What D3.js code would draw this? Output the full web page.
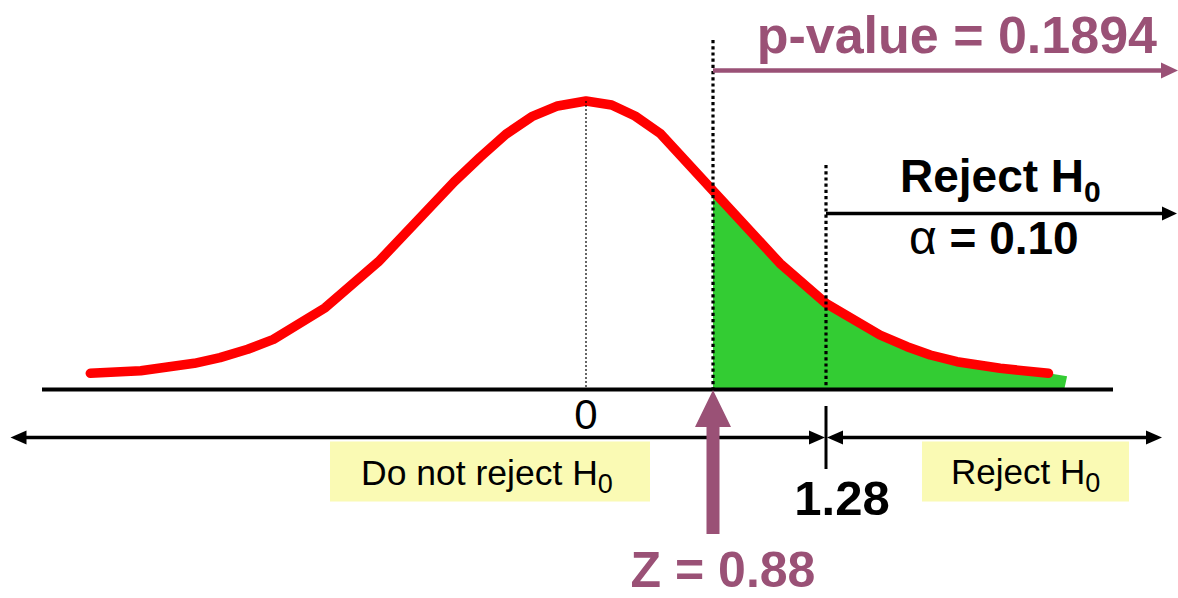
<!DOCTYPE html>
<html>
<head>
<meta charset="utf-8">
<script src="https://cdn.jsdelivr.net/npm/d3@7/dist/d3.min.js"></script>
<style>
  html, body { margin: 0; padding: 0; background: #ffffff; }
  svg { display: block; }
  text { font-family: "Liberation Sans", Arial, Helvetica, sans-serif; }
</style>
</head>
<body>
<script>
// ---- data ----
// schematic standard-normal curve: z positions and density heights
const curveZ = [-3.435, -3.085, -2.714, -2.536, -2.344, -2.166, -1.807, -1.438, -1.164, -0.913,
                -0.734, -0.555, -0.376, -0.197, 0, 0.178, 0.340, 0.513, 0.88, 1.117,
                1.28, 1.654, 1.842, 2.003, 2.188, 2.487, 2.822];
const curveDensity = [0.0217, 0.0253, 0.0356, 0.0434, 0.0550, 0.0688, 0.1126, 0.1763, 0.2341, 0.2871,
                      0.3209, 0.3528, 0.3771, 0.3920, 0.3989, 0.3934, 0.3781, 0.3541, 0.2747, 0.1741,
                      0.1187, 0.0748, 0.0586, 0.0471, 0.0378, 0.0287, 0.0217];
// shaded p-value area runs a little beyond the end of the drawn curve
const shadeTailZ = [2.951, 2.932];
const shadeTailDensity = [0.0175, 0];

const zCenter = 0;
const zStat = 0.88;          // test statistic
const zCritical = 1.28;      // critical value
const pValue = 0.1894;
const alpha = 0.10;

const labelZero = "0";
const labelCritical = "1.28";
const labelStat = "Z = 0.88";
const labelPValue = "p-value = 0.1894";
const labelAlphaSym = "α";
const labelAlphaVal = " = 0.10";
const labelReject = "Reject H";
const labelDoNot = "Do not reject H";
const labelSub = "0";

// ---- layout ----
const W = 1178, H = 598;
const mauve = "#9a5176";
const svg = d3.select("body").append("svg").attr("width", W).attr("height", H);

// schematic (not to scale) horizontal z scale
const x = d3.scaleLinear()
  .domain([-3.5, zCenter, zStat, zCritical, 3.5])
  .range([80.9, 586, 713, 826, 1146.3]);
const y = d3.scaleLinear().domain([0, 0.3989]).range([389, 101]);

const curve = curveZ.map((z, i) => [z, curveDensity[i]]);

// green shaded area (z >= zStat)
const shade = [[zStat, 0]]
  .concat(curve.filter(d => d[0] >= zStat))
  .concat(shadeTailZ.map((z, i) => [z, shadeTailDensity[i]]));
svg.append("path")
  .attr("d", d3.line().x(d => x(d[0])).y(d => y(d[1]))(shade) + "Z")
  .attr("fill", "#33cc33");

// red curve
svg.append("path")
  .datum(curve)
  .attr("d", d3.line().x(d => x(d[0])).y(d => y(d[1])))
  .attr("fill", "none")
  .attr("stroke", "#ff0000")
  .attr("stroke-width", 9.5)
  .attr("stroke-linejoin", "round")
  .attr("stroke-linecap", "round");

// thin dotted line at the mean
svg.append("line")
  .attr("x1", x(zCenter)).attr("x2", x(zCenter))
  .attr("y1", y(0.3989)).attr("y2", y(0))
  .attr("stroke", "#000").attr("stroke-width", 1.2).attr("stroke-dasharray", "2,2");

// thick dotted lines at Z stat and critical value
svg.append("line")
  .attr("x1", x(zStat)).attr("x2", x(zStat))
  .attr("y1", 40).attr("y2", y(0))
  .attr("stroke", "#000").attr("stroke-width", 3.2).attr("stroke-dasharray", "3.2,3");
svg.append("line")
  .attr("x1", x(zCritical)).attr("x2", x(zCritical))
  .attr("y1", 165).attr("y2", y(0))
  .attr("stroke", "#000").attr("stroke-width", 3.2).attr("stroke-dasharray", "3.2,3");

// baseline
svg.append("line")
  .attr("x1", 42).attr("x2", 1113)
  .attr("y1", 389.5).attr("y2", 389.5)
  .attr("stroke", "#000").attr("stroke-width", 4);

function arrowHead(tipX, tipY, dir, len, half, color) {
  // dir: 1 = pointing right, -1 = pointing left
  const bx = tipX - dir * len;
  svg.append("path")
    .attr("d", `M${tipX},${tipY} L${bx},${tipY - half} L${bx},${tipY + half} Z`)
    .attr("fill", color);
}
function hLine(x1, x2, yy, w, color) {
  svg.append("line").attr("x1", x1).attr("x2", x2).attr("y1", yy).attr("y2", yy)
    .attr("stroke", color).attr("stroke-width", w);
}

// p-value arrow
hLine(x(zStat), 1163, 70.5, 4.5, mauve);
arrowHead(1178, 70.5, 1, 17, 8, mauve);

// reject region arrow (alpha)
hLine(x(zCritical), 1164, 213.5, 3.5, "#000");
arrowHead(1177, 213.5, 1, 15, 7, "#000");

// bottom double arrows
const yArr = 437.5;
hLine(22, x(zCritical) - 12, yArr, 3.5, "#000");
arrowHead(10.5, yArr, -1, 16, 7, "#000");
arrowHead(x(zCritical) - 1, yArr, 1, 16, 7, "#000");
hLine(x(zCritical) + 12, 1150, yArr, 3.5, "#000");
arrowHead(x(zCritical) + 1, yArr, -1, 16, 7, "#000");
arrowHead(1162, yArr, 1, 16, 7, "#000");
// tick at critical value
svg.append("line")
  .attr("x1", x(zCritical)).attr("x2", x(zCritical))
  .attr("y1", 406).attr("y2", 469)
  .attr("stroke", "#000").attr("stroke-width", 3);

// mauve up arrow at Z stat
const ax = x(zStat);
svg.append("path")
  .attr("d", `M${ax},390 L${ax + 18},427 L${ax + 6.5},427 L${ax + 6.5},534 L${ax - 6.5},534 L${ax - 6.5},427 L${ax - 18},427 Z`)
  .attr("fill", mauve);

// yellow boxes
svg.append("rect").attr("x", 330).attr("y", 441.5).attr("width", 320).attr("height", 60).attr("fill", "#fafab4");
svg.append("rect").attr("x", 922).attr("y", 441.5).attr("width", 207).attr("height", 60).attr("fill", "#fafab4");

// texts
function subText(tx, ty, main, size, subSize, subDy, weight, color, anchor) {
  const t = svg.append("text")
    .attr("x", tx).attr("y", ty)
    .attr("font-size", size).attr("font-weight", weight)
    .attr("fill", color).attr("text-anchor", anchor || "start");
  t.append("tspan").text(main);
  t.append("tspan").attr("font-size", subSize).attr("dy", subDy).text(labelSub);
  return t;
}

svg.append("text")
  .attr("x", 1157).attr("y", 52.5)
  .attr("text-anchor", "end")
  .attr("font-size", 52).attr("font-weight", "bold").attr("fill", mauve)
  .text(labelPValue);

subText(900, 191.5, labelReject, 46, 30, 10, "bold", "#000");
const at = svg.append("text")
  .attr("x", 909).attr("y", 254)
  .attr("font-size", 46).attr("font-weight", "bold").attr("fill", "#000");
at.append("tspan").attr("font-weight", "normal").attr("font-size", 48).text(labelAlphaSym);
at.append("tspan").text(labelAlphaVal);

svg.append("text")
  .attr("x", x(zCenter)).attr("y", 429)
  .attr("text-anchor", "middle")
  .attr("font-size", 42).attr("fill", "#000")
  .text(labelZero);

subText(361, 485, labelDoNot, 35.5, 27, 8, "normal", "#000");
subText(951, 484, labelReject, 35, 27, 8, "normal", "#000");

svg.append("text")
  .attr("x", x(zCritical) + 16).attr("y", 515)
  .attr("text-anchor", "middle")
  .attr("font-size", 49).attr("font-weight", "bold").attr("fill", "#000")
  .text(labelCritical);

svg.append("text")
  .attr("x", 723).attr("y", 587)
  .attr("text-anchor", "middle")
  .attr("font-size", 50).attr("font-weight", "bold").attr("fill", mauve)
  .text(labelStat);
</script>
</body>
</html>
